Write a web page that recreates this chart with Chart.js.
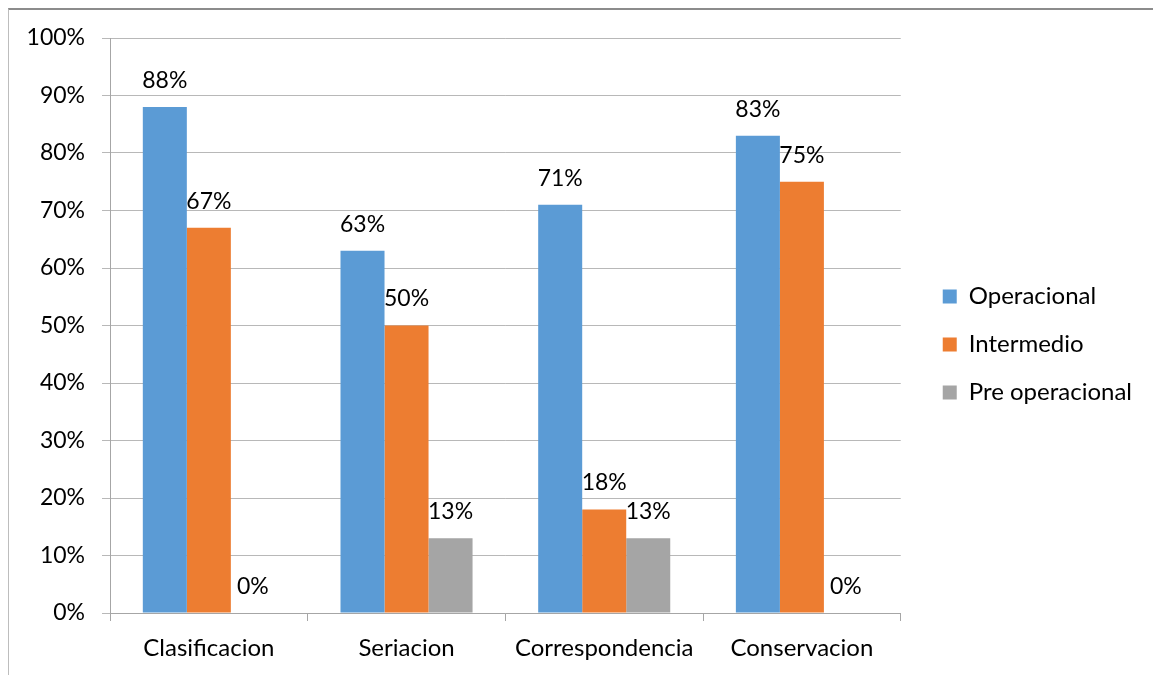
<!DOCTYPE html>
<html lang="es">
<head>
    <meta charset="UTF-8">
    <title>Niveles por prueba</title>
    <script src="https://cdn.jsdelivr.net/npm/chart.js"></script>
    <style>
        html, body {
            margin: 0;
            padding: 0;
            background: #fff;
            overflow: hidden;
        }

        .frame {
            position: absolute;
            left: 8px;
            top: 8px;
            width: 1200px;
            height: 700px;
            border-top: 2px solid #8c8c8c;
            border-left: 1px solid #bdbdbd;
        }

        .chart-box {
            position: absolute;
            left: 0;
            top: 0;
            width: 1153px;
            height: 675px;
        }
    </style>
</head>
<body>
    <div class="frame"></div>
    <div class="chart-box">
        <canvas id="myChart" width="1153" height="675"></canvas>
    </div>

    <script>
        // datos
        var categorias = ['Clasificacion', 'Seriacion', 'Correspondencia', 'Conservacion'];
        var operacional = [88, 63, 71, 83];
        var intermedio = [67, 50, 18, 75];
        var preOperacional = [0, 13, 13, 0];
        var nombresSeries = ['Operacional', 'Intermedio', 'Pre operacional'];

        var fuente = 'Lato, "Open Sans", sans-serif';
        var tamTexto = 23;
        var tamEtiqueta = 24;

        // etiquetas de valor encima de cada barra
        var etiquetasBarras = {
            id: 'etiquetasBarras',
            afterDatasetsDraw: function (chart) {
                var ctx = chart.ctx;
                ctx.save();
                ctx.font = tamTexto + 'px ' + fuente;
                ctx.fillStyle = '#000';
                ctx.textAlign = 'center';
                ctx.textBaseline = 'bottom';
                chart.data.datasets.forEach(function (ds, i) {
                    var meta = chart.getDatasetMeta(i);
                    meta.data.forEach(function (bar, j) {
                        ctx.fillText(ds.data[j] + '%', bar.x, bar.y - 15);
                    });
                });
                ctx.restore();
            }
        };

        // mueve la leyenda para dejar el hueco de Excel
        var moverLeyenda = {
            id: 'moverLeyenda',
            afterLayout: function (chart) {
                var lg = chart.legend;
                var dx = chart.chartArea.right + 42 - lg.options.labels.padding - lg.left;
                lg.left += dx;
                lg.right += dx;
                lg.top -= 12;
                lg.bottom -= 12;
            }
        };

        var ctx = document.getElementById('myChart').getContext('2d');
        var myChart = new Chart(ctx, {
            type: 'bar',
            data: {
                labels: categorias,
                datasets: [{
                    label: nombresSeries[0],
                    data: operacional,
                    backgroundColor: '#5B9BD5'
                }, {
                    label: nombresSeries[1],
                    data: intermedio,
                    backgroundColor: '#ED7D31'
                }, {
                    label: nombresSeries[2],
                    data: preOperacional,
                    backgroundColor: '#A5A5A5'
                }]
            },
            options: {
                responsive: false,
                animation: false,
                categoryPercentage: 0.668,
                barPercentage: 1,
                layout: {
                    padding: { top: 38, right: 29, bottom: 0, left: 0 }
                },
                plugins: {
                    legend: {
                        position: 'right',
                        labels: {
                            boxWidth: 14,
                            boxHeight: 14,
                            padding: 24,
                            color: '#000',
                            font: { family: fuente, size: tamEtiqueta }
                        }
                    },
                    tooltip: { enabled: false }
                },
                scales: {
                    x: {
                        grid: {
                            offset: true,
                            drawOnChartArea: false,
                            drawTicks: true,
                            tickLength: 8,
                            color: '#a6a6a6'
                        },
                        border: { color: '#a6a6a6' },
                        ticks: {
                            padding: 13,
                            color: '#000',
                            font: { family: fuente, size: tamEtiqueta }
                        },
                        afterFit: function (scale) {
                            scale.height = 62;
                        }
                    },
                    y: {
                        min: 0,
                        max: 100,
                        grid: {
                            color: '#b8b8b8',
                            tickLength: 8
                        },
                        border: { color: '#a6a6a6' },
                        ticks: {
                            stepSize: 10,
                            padding: 17,
                            color: '#000',
                            font: { family: fuente, size: tamTexto },
                            callback: function (v) { return v + '%'; }
                        },
                        afterFit: function (scale) {
                            scale.width = 110;
                        }
                    }
                }
            },
            plugins: [etiquetasBarras, moverLeyenda]
        });
    </script>
</body>
</html>
